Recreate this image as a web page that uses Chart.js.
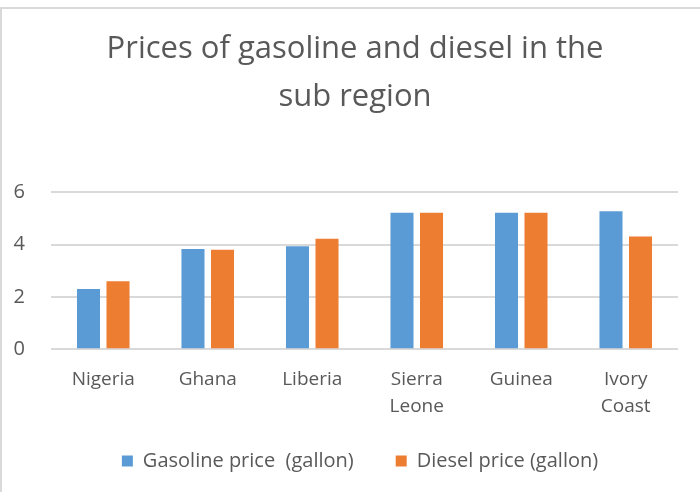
<!DOCTYPE html>
<html>
<head>
<meta charset="utf-8">
<script src="https://cdn.jsdelivr.net/npm/chart.js@4"></script>
<style>
  html, body { margin: 0; padding: 0; background: #fff; }
  #wrap {
    position: relative; width: 700px; height: 492px; overflow: hidden;
  }
  #wrap::before {
    content: ""; position: absolute; left: 0; top: 7px; right: 0; height: 2px; background: #d9d9d9;
  }
  #wrap::after {
    content: ""; position: absolute; left: 0; top: 7px; bottom: 0; width: 2px; background: #d9d9d9;
  }
</style>
</head>
<body>
<div id="wrap">
  <canvas id="chart" width="700" height="492"></canvas>
</div>
<script>
// Chart data
const countries = ["Nigeria", ["Ghana"], ["Liberia"], ["Sierra", "Leone"], ["Guinea"], ["Ivory", "Coast"]];
const gasolinePrice = [2.30, 3.83, 3.93, 5.22, 5.22, 5.27];
const dieselPrice = [2.60, 3.80, 4.22, 5.22, 5.22, 4.31];
const yTicks = [0, 2, 4, 6];

const textColor = "#595959";
const fontName = "'Open Sans', sans-serif";

// nudge title and legend a bit, like the excel layout
const nudgeBoxes = {
  id: "nudgeBoxes",
  afterLayout(chart) {
    const t = chart.titleBlock;
    t.left += 16;
    t.right += 16;
    const lg = chart.legend;
    lg.left += 21;
    lg.right += 21;
    lg.top -= 28;
    lg.bottom -= 28;
  }
};

const ctx = document.getElementById("chart").getContext("2d");

const chart = new Chart(ctx, {
  type: "bar",
  data: {
    labels: countries,
    datasets: [
      {
        label: "Gasoline price  (gallon)",
        data: gasolinePrice,
        backgroundColor: "#5b9bd5",
        categoryPercentage: 0.565,
        barPercentage: 0.78
      },
      {
        label: "Diesel price (gallon)",
        data: dieselPrice,
        backgroundColor: "#ed7d31",
        categoryPercentage: 0.565,
        barPercentage: 0.78
      }
    ]
  },
  options: {
    responsive: false,
    animation: false,
    layout: { padding: { left: 0, right: 22, top: 0, bottom: -17 } },
    plugins: {
      title: {
        display: true,
        text: ["Prices of gasoline and diesel in the", "sub region"],
        color: textColor,
        font: { family: fontName, size: 31, weight: "normal", lineHeight: 1.52 },
        padding: { top: 26, bottom: 72 }
      },
      legend: {
        position: "bottom",
        labels: {
          color: textColor,
          font: { family: fontName, size: 20 },
          boxWidth: 11,
          boxHeight: 11,
          padding: 42
        }
      },
      tooltip: { enabled: false }
    },
    scales: {
      x: {
        grid: { display: false, drawTicks: false },
        border: { display: false },
        ticks: {
          color: textColor,
          font: { family: fontName, size: 19, lineHeight: 1.47 },
          padding: 16,
          maxRotation: 0
        }
      },
      y: {
        min: 0,
        max: 6,
        afterBuildTicks: (scale) => {
          scale.ticks = yTicks.map(v => ({ value: v }));
        },
        afterFit: (scale) => {
          scale.width = 51;
        },
        grid: { color: "#d9d9d9", lineWidth: 2, drawTicks: false },
        border: { display: false },
        ticks: {
          color: textColor,
          font: { family: fontName, size: 20 },
          padding: 26,
          align: "center"
        }
      }
    }
  },
  plugins: [nudgeBoxes]
});
</script>
</body>
</html>
